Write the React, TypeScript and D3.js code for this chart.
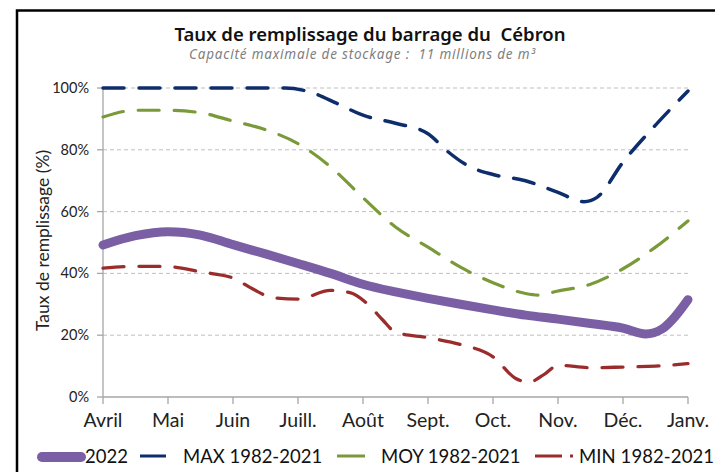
import React from "react";
import * as d3 from "d3";

const months = ["Avril", "Mai", "Juin", "Juill.", "Août", "Sept.", "Oct.", "Nov.", "Déc.", "Janv."];
const yTicks = [0, 20, 40, 60, 80, 100];

// x in month index (0 = Avril, 9 = Janv.), y in %
const s2022: [number, number][] = [
  [0, 49.2], [0.5, 52.2], [1, 53.5], [1.5, 52.4], [2, 49.3], [2.5, 46.3], [3, 43.2],
  [3.5, 40], [4, 36.5], [4.5, 34], [5, 31.9], [5.5, 30], [6, 28.2], [6.5, 26.5],
  [7, 25.2], [7.5, 23.8], [8, 22.3], [8.35, 20.4], [8.6, 22], [8.8, 26], [9, 31.5],
];
const sMax: [number, number][] = [
  [0, 100], [1, 100], [2, 100], [2.8, 100], [3.2, 98.6], [3.6, 95], [4, 91.2],
  [4.5, 88.6], [5, 85.2], [5.3, 79.5], [5.6, 75], [6, 72], [6.5, 70], [7, 66.2],
  [7.4, 63.2], [7.6, 64.6], [8, 76], [8.5, 88], [9, 99],
];
const sMoy: [number, number][] = [
  [0, 90.6], [0.5, 92.8], [1, 92.8], [1.5, 92], [2, 89.3], [2.5, 86.5], [3, 82],
  [3.5, 74.5], [4, 64.5], [4.5, 55], [5, 48.5], [5.5, 42], [6, 37], [6.5, 33.5],
  [6.7, 33], [7, 34.3], [7.5, 36.5], [8, 41.5], [8.5, 48.5], [9, 57],
];
const sMin: [number, number][] = [
  [0, 41.7], [0.5, 42.3], [1, 42.2], [1.5, 40.5], [2, 38.5], [2.3, 35], [2.6, 32.2],
  [3, 31.7], [3.5, 34.5], [3.8, 33.8], [4.1, 29.5], [4.3, 25], [4.5, 21], [5, 19.2],
  [5.5, 17], [6, 13], [6.35, 6], [6.55, 4.8], [6.8, 7.5], [7, 10.3], [7.5, 9.5],
  [8, 9.7], [8.5, 10], [9, 10.8],
];

const title = "Taux de remplissage du barrage du  Cébron";
const subtitle = "Capacité maximale de stockage :  11 millions de m³";
const yTitle = "Taux de remplissage (%)";
const legendLabels = ["2022", "MAX 1982-2021", "MOY 1982-2021", "MIN 1982-2021"];

const C_PURPLE = "#7B5FA5";
const C_NAVY = "#0E2D6D";
const C_GREEN = "#7A9A3A";
const C_RED = "#9B2C2C";
const FONT = "Lato, 'Noto Sans', sans-serif";
const FONT_WIDE = "'Noto Sans', Lato, sans-serif";

export default function App() {
  const x = d3.scaleLinear().domain([0, 9]).range([103, 688]);
  const y = d3.scaleLinear().domain([0, 100]).range([397, 88]);
  const line = d3
    .line<[number, number]>()
    .x((d) => x(d[0]))
    .y((d) => y(d[1]))
    .curve(d3.curveMonotoneX);

  return (
    <svg
      width={715}
      height={472}
      style={{ position: "absolute", left: 0, top: 0, background: "#fff" }}
      fontFamily={FONT}
    >
      <rect x={0} y={0} width={715} height={472} fill="#fff" />
      {/* frame */}
      <rect x={17} y={10.5} width={720} height={480} fill="none" stroke="#000" strokeWidth={2.5} />

      {/* titles */}
      <text x={370} y={41} textAnchor="middle" fontSize={18.5} fontWeight={600} fill="#111"
        fontFamily={FONT_WIDE} style={{ whiteSpace: "pre" }}>
        {title}
      </text>
      <text x={362} y={59} textAnchor="middle" fontSize={13.5} fontStyle="italic" fill="#7f7f7f"
        fontFamily={FONT_WIDE} style={{ whiteSpace: "pre" }} textLength={346} lengthAdjust="spacing">
        {subtitle}
      </text>

      {/* gridlines */}
      {yTicks.filter((t) => t > 0).map((t) => (
        <line key={t} x1={x(0)} x2={x(9)} y1={y(t)} y2={y(t)} stroke="#BFBFBF" strokeWidth={1} strokeDasharray="4 3" />
      ))}

      {/* axes */}
      <line x1={x(0)} x2={x(0)} y1={y(100)} y2={y(0)} stroke="#A6A6A6" strokeWidth={1.3} />
      <line x1={x(0)} x2={x(9)} y1={y(0)} y2={y(0)} stroke="#A6A6A6" strokeWidth={1.3} />
      {yTicks.map((t) => (
        <g key={t}>
          <line x1={x(0) - 6} x2={x(0)} y1={y(t)} y2={y(t)} stroke="#A6A6A6" strokeWidth={1.3} />
          <text x={89} y={y(t) + 5} textAnchor="end" fontSize={14.5} fill="#222">
            {t}%
          </text>
        </g>
      ))}
      {months.map((m, i) => (
        <g key={m}>
          <line x1={x(i)} x2={x(i)} y1={y(0)} y2={y(0) + 7} stroke="#A6A6A6" strokeWidth={1.3} />
          <text x={x(i)} y={427} textAnchor="middle" fontSize={19.5} fill="#222">
            {m}
          </text>
        </g>
      ))}
      <text
        transform={`translate(49,${(y(0) + y(100)) / 2 - 2}) rotate(-90)`}
        textAnchor="middle"
        fontSize={17.5}
        fill="#222"
      >
        {yTitle}
      </text>

      {/* series */}
      <path d={line(sMin) || ""} fill="none" stroke={C_RED} strokeWidth={3.3} strokeDasharray="21 15" strokeLinecap="round" />
      <path d={line(sMoy) || ""} fill="none" stroke={C_GREEN} strokeWidth={3.2} strokeDasharray="21 15" strokeLinecap="round" />
      <path d={line(sMax) || ""} fill="none" stroke={C_NAVY} strokeWidth={3.5} strokeDasharray="21 15" strokeLinecap="round" />
      <path d={line(s2022) || ""} fill="none" stroke={C_PURPLE} strokeWidth={9} strokeLinecap="round" />

      {/* legend */}
      <g fontSize={18.5} fill="#111">
        <line x1={42} x2={81} y1={457} y2={457} stroke={C_PURPLE} strokeWidth={10} strokeLinecap="round" />
        <text x={85} y={463}>{legendLabels[0]}</text>
        <line x1={140} x2={166} y1={456} y2={456} stroke={C_NAVY} strokeWidth={3} />
        <text x={183} y={463}>{legendLabels[1]}</text>
        <line x1={337} x2={365} y1={456} y2={456} stroke={C_GREEN} strokeWidth={3} />
        <text x={381} y={463}>{legendLabels[2]}</text>
        <line x1={535} x2={562} y1={456} y2={456} stroke={C_RED} strokeWidth={3} />
        <line x1={570} x2={573} y1={456} y2={456} stroke={C_RED} strokeWidth={3} />
        <text x={579} y={463} textLength={135} lengthAdjust="spacing">{legendLabels[3]}</text>
      </g>
    </svg>
  );
}
